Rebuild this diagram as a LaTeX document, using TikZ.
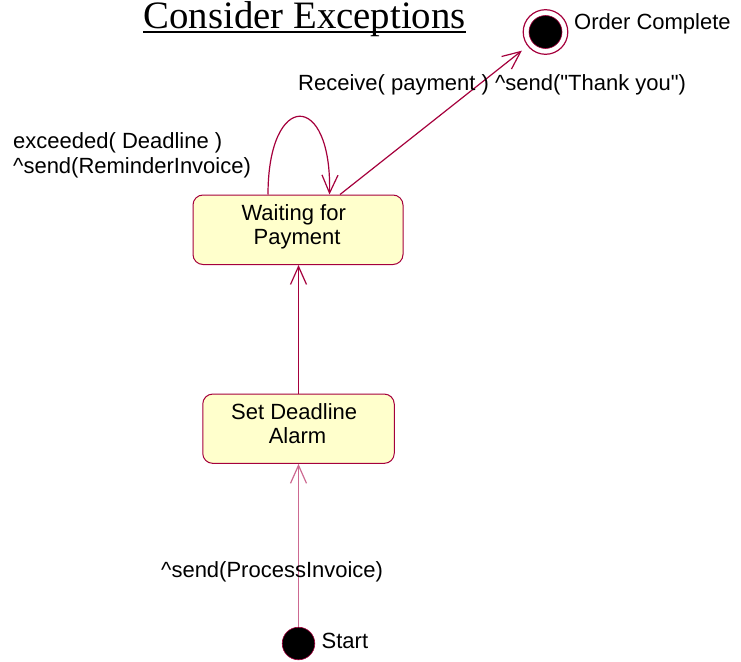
\documentclass[tikz,border=0pt]{standalone}
\usepackage{fontspec}
\setmainfont{Liberation Sans}
\newfontfamily\titlefont{Liberation Serif}
\usetikzlibrary{arrows.meta}
\definecolor{crim}{RGB}{165,0,60}
\definecolor{crimlight}{RGB}{205,105,145}
\definecolor{stfill}{RGB}{255,255,204}
\begin{document}
\begin{tikzpicture}[x=1pt,y=-1pt,
  lbl/.style={inner sep=0pt, font=\fontsize{22}{24.7}\selectfont},
  statebox/.style={draw=crim, line width=1pt, fill=stfill, rounded corners=10pt, inner sep=0pt},
  trans/.style={draw=crim, line width=1.2pt, -{Straight Barb[length=18pt,width=16pt]}},
  startdot/.style={circle, fill=black, draw=crim, line width=0.6pt, minimum size=32.6pt, inner sep=0pt},
  finstate/.style={rectangle, minimum size=47pt, inner sep=0pt,
    path picture={
      \draw[crim, line width=1.2pt] (path picture bounding box.center) circle[radius=22.3pt];
      \filldraw[fill=black, draw=crim, line width=0.6pt] (path picture bounding box.center) circle[radius=16.5pt];
    }}
]
\useasboundingbox (0,0) rectangle (741,661);

% title
\node[inner sep=0pt, anchor=base west, font=\titlefont\fontsize{38.8}{40}\selectfont] (title) at (143.3,29) {Consider Exceptions};
\draw[line width=2pt] ([yshift=-3pt]title.base west) -- ([yshift=-3pt]title.base east);

% states
\node[statebox, minimum width=210pt, minimum height=69.5pt] (wait) at (298,229.75) {};
\node[lbl, align=center] (waittext) at (297,226.7) {Waiting for\hspace*{0.3em}\\Payment};

\node[statebox, minimum width=191.5pt, minimum height=69.3pt] (alarm) at (298.5,428.7) {};
\node[lbl, align=center] (alarmtext) at (297.5,423.7) {Set Deadline\hspace*{0.3em}\\Alarm};

\node[startdot] (start) at (298.5,643.5) {};
\node[lbl, anchor=base west] (startlbl) at (321.5,648) {Start};

\node[finstate] (fin) at (545.5,32) {};
\node[lbl, anchor=base west] (finlbl) at (574,29.5) {Order Complete};

% transitions
\draw[trans, draw=crimlight] (start) -- (alarm);
\node[lbl, anchor=base west] (proclbl) at (161,577.5) {\textasciicircum send(ProcessInvoice)};

\draw[trans] (alarm.north) -- (alarm.north |- wait.south);

\draw[trans] ([xshift=-30pt]wait.north) .. controls ([xshift=-30pt,yshift=104pt]wait.north) and ([xshift=34pt,yshift=104pt]wait.north) .. ([xshift=31.5pt]wait.north);
\node[lbl, anchor=west, align=left] (looplbl) at (13,155) {exceeded( Deadline )\\\textasciicircum send(ReminderInvoice)};

\draw[trans] ([xshift=42pt]wait.north) -- (fin);
\node[lbl, anchor=base west] (reclbl) at (298,90.5) {Receive( payment ) \textasciicircum send(\textquotedbl Thank you\textquotedbl)};
\end{tikzpicture}
\end{document}
